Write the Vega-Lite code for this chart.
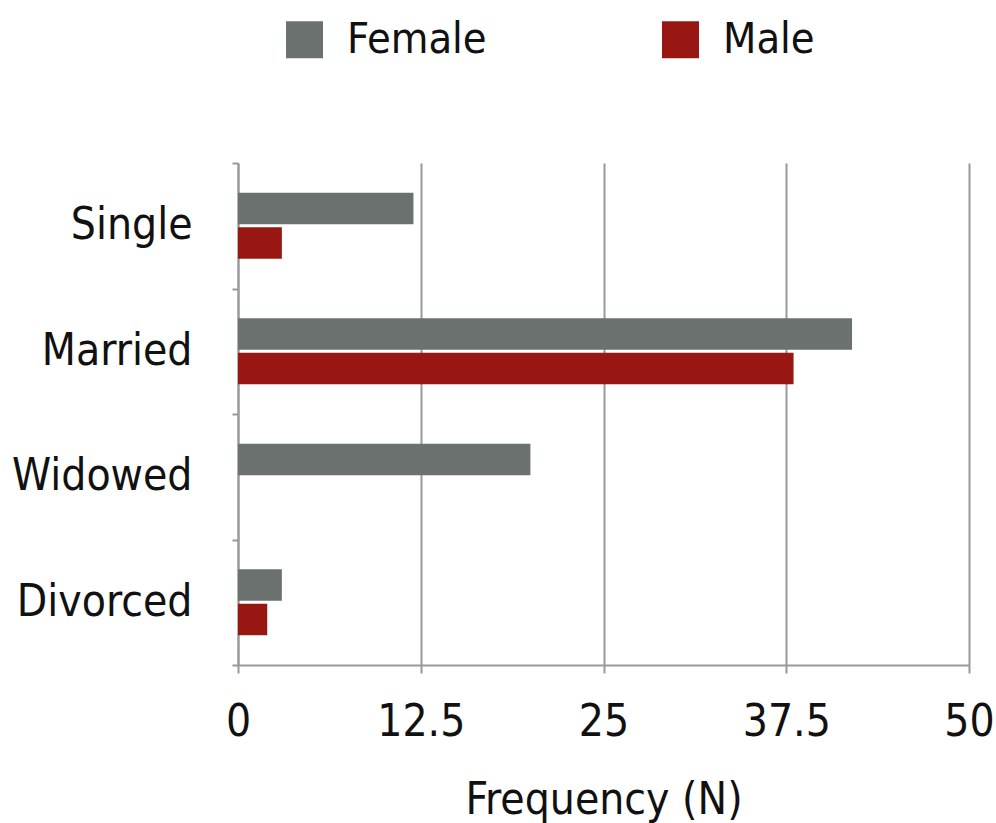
{
  "$schema": "https://vega.github.io/schema/vega-lite/v6.json",
  "width": 731,
  "height": 502,
  "autosize": {"type": "none"},
  "padding": {"left": 238, "top": 163, "right": 27, "bottom": 158},
  "background": "white",
  "config": {
    "view": {"stroke": null},
    "font": "DejaVu Sans Condensed"
  },
  "data": {
    "values": [
      {"status": "Single", "sex": "Female", "n": 12},
      {"status": "Single", "sex": "Male", "n": 3},
      {"status": "Married", "sex": "Female", "n": 42},
      {"status": "Married", "sex": "Male", "n": 38},
      {"status": "Widowed", "sex": "Female", "n": 20},
      {"status": "Widowed", "sex": "Male", "n": 0},
      {"status": "Divorced", "sex": "Female", "n": 3},
      {"status": "Divorced", "sex": "Male", "n": 2}
    ]
  },
  "mark": {"type": "bar"},
  "encoding": {
    "y": {
      "field": "status",
      "type": "nominal",
      "sort": ["Single", "Married", "Widowed", "Divorced"],
      "scale": {"paddingInner": 0, "paddingOuter": 0},
      "axis": {
        "title": null,
        "labelFont": "DejaVu Sans Condensed",
        "labelFontSize": 44,
        "labelColor": "#111111",
        "labelPadding": 40,
        "labelLimit": 400,
        "tickSize": 6,
        "tickBand": "extent",
        "tickColor": "#999999",
        "tickWidth": 2,
        "domainColor": "#999999",
        "domainWidth": 2,
        "grid": false
      }
    },
    "yOffset": {
      "field": "sex",
      "type": "nominal",
      "scale": {"paddingInner": 0.087, "paddingOuter": 0.86}
    },
    "x": {
      "field": "n",
      "type": "quantitative",
      "scale": {"domain": [0, 50], "nice": false},
      "axis": {
        "title": "Frequency (N)",
        "values": [0, 12.5, 25, 37.5, 50],
        "format": ".1~f",
        "labelFont": "DejaVu Sans Condensed",
        "labelFontSize": 44,
        "labelColor": "#111111",
        "labelPadding": 27,
        "labelFlush": false,
        "titleFont": "DejaVu Sans Condensed",
        "titleFontSize": 44,
        "titleFontWeight": "normal",
        "titleColor": "#111111",
        "titlePadding": 34,
        "tickSize": 8,
        "tickColor": "#999999",
        "tickWidth": 2,
        "domainColor": "#999999",
        "domainWidth": 2,
        "grid": true,
        "gridColor": "#999999",
        "gridWidth": 2
      }
    },
    "color": {
      "field": "sex",
      "type": "nominal",
      "scale": {"domain": ["Female", "Male"], "range": ["#6b716f", "#981712"]},
      "legend": {
        "title": null,
        "orient": "none",
        "legendX": 45,
        "legendY": -145,
        "direction": "horizontal",
        "columns": 2,
        "columnPadding": 172,
        "symbolType": "square",
        "symbolSize": 1369,
        "symbolStrokeWidth": 0,
        "symbolOpacity": 1,
        "labelFont": "DejaVu Sans Condensed",
        "labelFontSize": 43,
        "labelColor": "#111111",
        "labelOffset": 21,
        "labelLimit": 400
      }
    }
  }
}
